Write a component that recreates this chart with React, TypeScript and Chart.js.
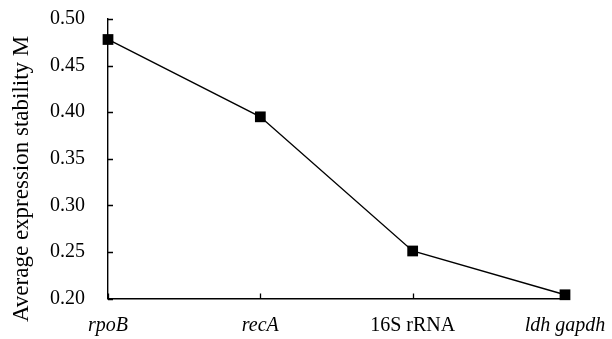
import React, { useEffect, useRef } from "react";
import { Chart, registerables } from "chart.js";

Chart.register(...registerables);

const categories = ["rpoB", "recA", "16S rRNA", "ldh gapdh"];
const italicLabels = [true, true, false, true];
const stability = [0.478, 0.395, 0.251, 0.204];
const yMin = 0.2;
const yMax = 0.5;
const yStep = 0.05;
const yTitle = "Average expression stability M";

const FAMILY = "'Liberation Serif', 'Times New Roman', serif";

const inwardTicks = {
  id: "inwardTicks",
  afterDraw(chart: any) {
    const ctx = chart.ctx;
    const x = chart.scales.x;
    const y = chart.scales.y;
    const len = 5;
    ctx.save();
    ctx.strokeStyle = "#000";
    ctx.lineWidth = 1.3;
    ctx.beginPath();
    for (let i = 0; i < y.ticks.length; i++) {
      const py = Math.round(y.getPixelForTick(i)) + 0.5;
      ctx.moveTo(x.left, py);
      ctx.lineTo(x.left + len, py);
    }
    for (let i = 0; i < x.ticks.length; i++) {
      const px = Math.round(x.getPixelForTick(i)) + 0.5;
      ctx.moveTo(px, y.bottom);
      ctx.lineTo(px, y.bottom - len);
    }
    ctx.stroke();
    ctx.restore();
  },
};

export default function App() {
  const ref = useRef<HTMLCanvasElement | null>(null);

  useEffect(() => {
    document.body.style.margin = "0";
    const canvas = ref.current;
    if (!canvas) return;
    const chart = new Chart(canvas, {
      type: "line",
      data: {
        labels: categories,
        datasets: [
          {
            data: stability,
            borderColor: "#000",
            backgroundColor: "#000",
            borderWidth: 1.4,
            pointStyle: "rect",
            pointRadius: 7.6,
            pointHoverRadius: 7.6,
            pointBorderWidth: 0,
            pointBackgroundColor: "#000",
            tension: 0,
            clip: false as any,
          },
        ],
      },
      options: {
        animation: false,
        responsive: false,
        maintainAspectRatio: false,
        layout: { autoPadding: false, padding: { left: 4, right: 47, top: 19, bottom: 0 } },
        plugins: {
          legend: { display: false },
          tooltip: { enabled: false },
        },
        scales: {
          x: {
            type: "category",
            offset: false,
            grid: { display: false, drawTicks: false },
            border: { display: true, color: "#000", width: 1.4 },
            afterFit: (scale: any) => {
              scale.height = 40.5;
              scale.paddingLeft = 0;
              scale.paddingRight = 0;
            },
            ticks: {
              color: "#000",
              padding: 15,
              maxRotation: 0,
              autoSkip: false,
              font: (c: any) => ({
                family: FAMILY,
                size: 20,
                style: italicLabels[c.index] ? "italic" : "normal",
              }),
            },
          },
          y: {
            min: yMin,
            max: yMax,
            grid: { display: false, drawTicks: false },
            border: { display: true, color: "#000", width: 1.4 },
            afterFit: (scale: any) => {
              scale.width = 104;
              scale.paddingTop = 0;
              scale.paddingBottom = 0;
            },
            ticks: {
              stepSize: yStep,
              color: "#000",
              padding: 23,
              font: { family: FAMILY, size: 20 },
              callback: (v: any) => Number(v).toFixed(2),
            },
            title: {
              display: true,
              text: yTitle + "       ",
              color: "#000",
              font: { family: FAMILY, size: 23 },
              padding: { top: 4, bottom: 0 },
            },
          },
        },
      },
      plugins: [inwardTicks],
    });
    return () => chart.destroy();
  }, []);

  return (
    <div style={{ width: 612, height: 339, background: "#fff" }}>
      <canvas ref={ref} width={612} height={339} style={{ display: "block", width: 612, height: 339 }} />
    </div>
  );
}
